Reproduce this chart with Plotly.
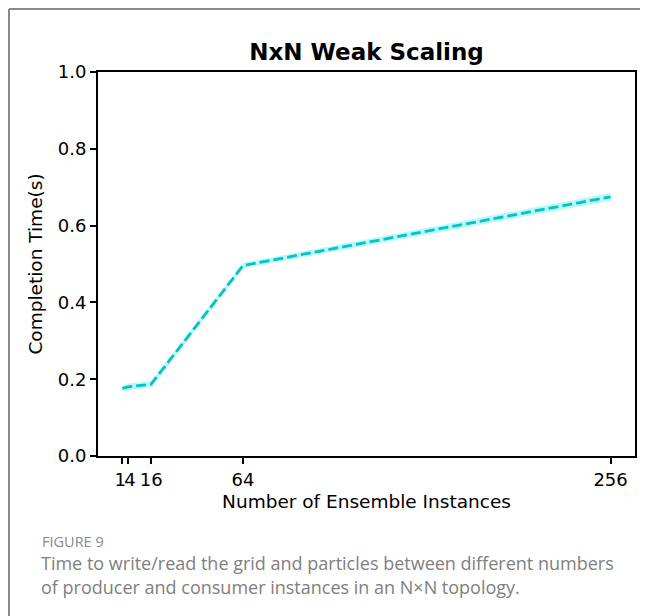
import plotly.graph_objects as go

instances = [1, 4, 16, 64, 256]
completion_time = [0.176, 0.180, 0.187, 0.496, 0.675]
ci_half = [0.008, 0.008, 0.008, 0.007, 0.010]
tick_vals = [1, 4, 16, 64, 256]
tick_text = ["1\u2005", "\u20094", "16", "64", "256"]
y_ticks = [0.0, 0.2, 0.4, 0.6, 0.8, 1.0]

upper = [v + c for v, c in zip(completion_time, ci_half)]
lower = [v - c for v, c in zip(completion_time, ci_half)]

OFF = 8  # page body margin
W, H = 648 - OFF, 616 - OFF
L, R, T, B = 98 - OFF, 635 - OFF, 72 - OFF, 456 - OFF
pw, ph = R - L, B - T

def px(x):
    return (x - OFF - L) / pw

def py(y):
    return (B - (y - OFF)) / ph

fig = go.Figure()
fig.add_trace(go.Scatter(x=instances, y=upper, mode="lines", line=dict(width=0, color="rgba(0,0,0,0)"),
                         showlegend=False, hoverinfo="skip"))
fig.add_trace(go.Scatter(x=instances, y=lower, mode="lines", line=dict(width=0, color="rgba(0,0,0,0)"),
                         fill="tonexty", fillcolor="rgba(150,245,245,0.65)", showlegend=False, hoverinfo="skip"))
fig.add_trace(go.Scatter(x=instances, y=completion_time, mode="lines",
                         line=dict(color="#00c4c6", width=2.8, dash="10px,4px"), showlegend=False))

font = "DejaVu Sans"
fig.update_layout(
    width=W, height=H,
    margin=dict(l=L, r=W - R, t=T, b=H - B, autoexpand=False),
    paper_bgcolor="white", plot_bgcolor="white",
    title=dict(text="<b>NxN Weak Scaling</b>", x=(L + R) / 2 / W, xanchor="center",
               y=1 - (52 - OFF) / H, yanchor="middle", font=dict(family=font, size=23, color="black")),
    xaxis=dict(range=[-11.75, 268.75], tickvals=tick_vals, ticktext=tick_text, tickangle=0,
               showline=True, linecolor="black", linewidth=1.8, mirror=True,
               ticks="outside", ticklen=6, tickwidth=1.5, tickcolor="black",
               showgrid=False, zeroline=False,
               tickfont=dict(family=font, size=18, color="black"),
               title=dict(text="Number of Ensemble Instances", font=dict(family=font, size=18.5, color="black"),
                          standoff=7)),
    yaxis=dict(range=[0, 1.0], tickvals=y_ticks, ticktext=[f"{v:.1f}" for v in y_ticks],
               showline=True, linecolor="black", linewidth=1.8, mirror=True,
               ticks="outside", ticklen=6, tickwidth=1.5, tickcolor="black",
               showgrid=False, zeroline=False,
               tickfont=dict(family=font, size=18, color="black"),
               title=dict(text="Completion Time(s)", font=dict(family=font, size=18.5, color="black"),
                          standoff=10)),
    shapes=[
        dict(type="line", xref="paper", yref="paper", x0=px(9), x1=px(670), y0=py(9), y1=py(9),
             line=dict(color="#8a8a8a", width=2)),
        dict(type="line", xref="paper", yref="paper", x0=px(9), x1=px(9), y0=py(9), y1=py(640),
             line=dict(color="#8a8a8a", width=2)),
    ],
    annotations=[
        dict(text="FIGURE 9", xref="paper", yref="paper", x=px(40), y=py(541), xanchor="left",
             yanchor="middle", showarrow=False, font=dict(family="Open Sans", size=14.5, color="#8a8a8a")),
        dict(text="Time to write/read the grid and particles between different numbers",
             xref="paper", yref="paper", x=px(39), y=py(563), xanchor="left", yanchor="middle",
             showarrow=False, font=dict(family="Open Sans", size=18, color="#808080")),
        dict(text="of producer and consumer instances in an N\u00d7N topology.",
             xref="paper", yref="paper", x=px(39), y=py(587), xanchor="left", yanchor="middle",
             showarrow=False, font=dict(family="Open Sans", size=18, color="#808080")),
    ],
)

fig.write_html("out.html")
